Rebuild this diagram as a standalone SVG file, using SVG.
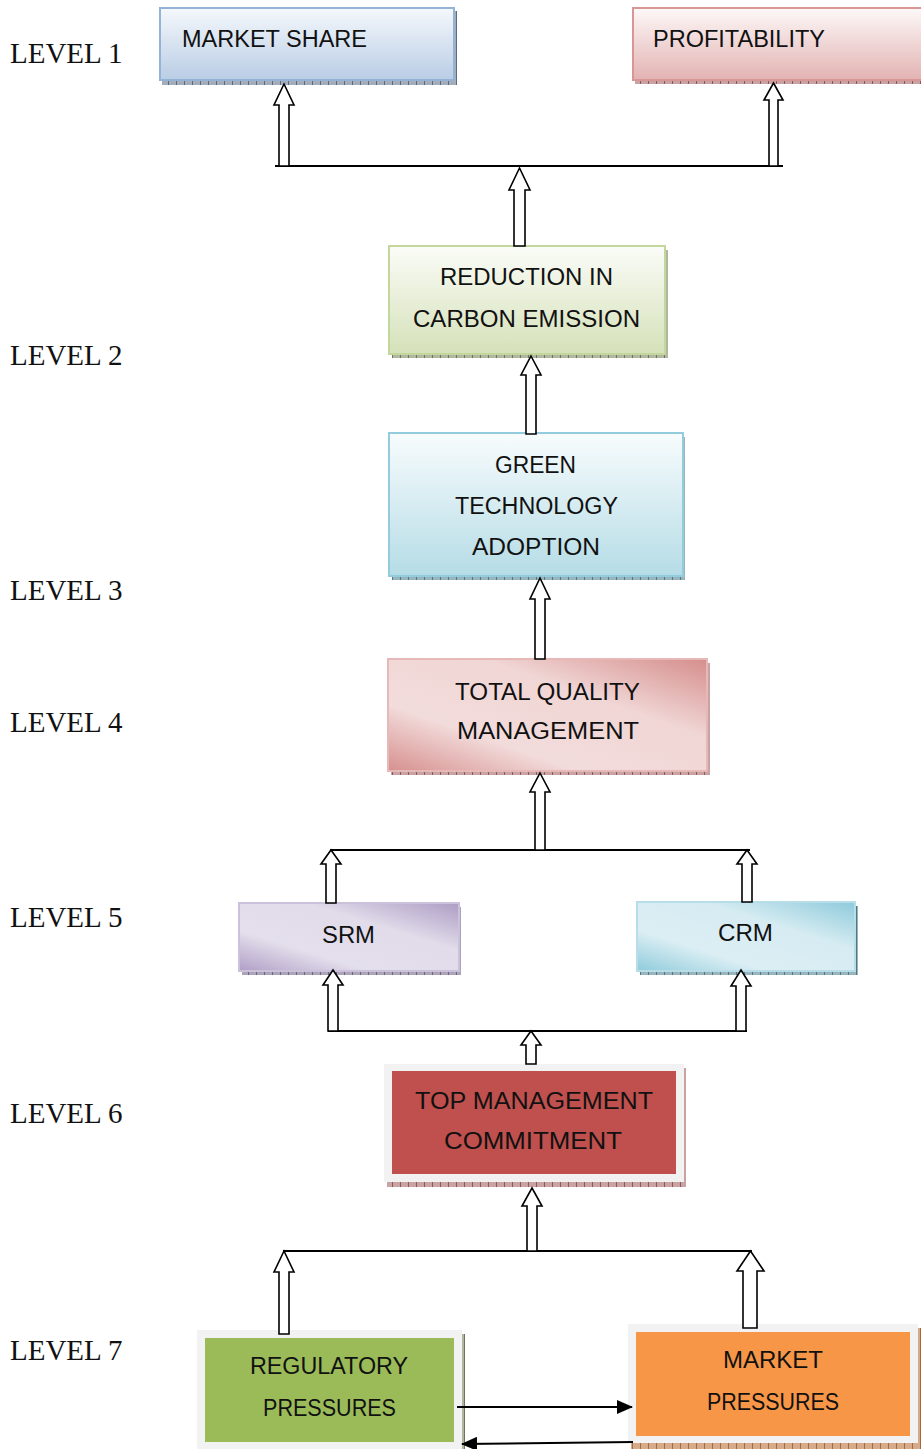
<svg xmlns="http://www.w3.org/2000/svg" width="921" height="1449" viewBox="0 0 921 1449">
<style>
.lvl{font-family:"Liberation Serif","Times New Roman",serif;font-size:29px;fill:#111}
.t{font-family:"Liberation Sans",Arial,sans-serif;font-size:23px;fill:#111;text-anchor:middle}
.blk{fill:#fff;stroke:#000;stroke-width:1.6;stroke-linejoin:miter}
.ln{stroke:#000;stroke-width:2;fill:none}
.thin{stroke:#000;stroke-width:2;fill:none}
</style>
<defs>
<linearGradient id="gMS" x1="0" y1="0" x2="0" y2="1"><stop offset="0" stop-color="#f5f8fc"/><stop offset="1" stop-color="#b9cde5"/></linearGradient>
<linearGradient id="gPR" x1="0" y1="0" x2="0" y2="1"><stop offset="0" stop-color="#fdf8f8"/><stop offset="1" stop-color="#e2b3b2"/></linearGradient>
<linearGradient id="gRE" x1="0" y1="0" x2="0" y2="1"><stop offset="0" stop-color="#fbfcf8"/><stop offset="1" stop-color="#d5e1b9"/></linearGradient>
<linearGradient id="gGT" x1="0" y1="0" x2="0" y2="1"><stop offset="0" stop-color="#f8fcfd"/><stop offset="1" stop-color="#b5dce6"/></linearGradient>
<linearGradient id="gTQ" x1="0" y1="1" x2="1" y2="0"><stop offset="0" stop-color="#d6908e"/><stop offset="0.3" stop-color="#f2dcdb"/><stop offset="0.65" stop-color="#f0d6d5"/><stop offset="1" stop-color="#d58e8c"/></linearGradient>
<linearGradient id="gSR" x1="0" y1="1" x2="1" y2="0"><stop offset="0" stop-color="#b09fc6"/><stop offset="0.3" stop-color="#e4dfec"/><stop offset="0.65" stop-color="#e1dbea"/><stop offset="1" stop-color="#ad9dc4"/></linearGradient>
<linearGradient id="gCR" x1="0" y1="1" x2="1" y2="0"><stop offset="0" stop-color="#8fcbdb"/><stop offset="0.3" stop-color="#dbeef4"/><stop offset="0.65" stop-color="#d6ecf2"/><stop offset="1" stop-color="#8ecadb"/></linearGradient>
<pattern id="hB" width="8" height="6" patternUnits="userSpaceOnUse"><rect width="8" height="6" fill="#a3adbb"/><line x1="0.5" y1="0" x2="0.5" y2="6" stroke="#5f6b7d" stroke-width="1"/></pattern>
<pattern id="hR" width="8" height="6" patternUnits="userSpaceOnUse"><rect width="8" height="6" fill="#c9a3a3"/><line x1="0.5" y1="0" x2="0.5" y2="6" stroke="#8c5858" stroke-width="1"/></pattern>
<pattern id="hG" width="8" height="6" patternUnits="userSpaceOnUse"><rect width="8" height="6" fill="#b0b7a0"/><line x1="0.5" y1="0" x2="0.5" y2="6" stroke="#6e7556" stroke-width="1"/></pattern>
<pattern id="hC" width="8" height="6" patternUnits="userSpaceOnUse"><rect width="8" height="6" fill="#98b4bd"/><line x1="0.5" y1="0" x2="0.5" y2="6" stroke="#557582" stroke-width="1"/></pattern>
<pattern id="hP" width="8" height="6" patternUnits="userSpaceOnUse"><rect width="8" height="6" fill="#aca4b8"/><line x1="0.5" y1="0" x2="0.5" y2="6" stroke="#6d6382" stroke-width="1"/></pattern>
<pattern id="hO" width="8" height="6" patternUnits="userSpaceOnUse"><rect width="8" height="6" fill="#d6ab8c"/><line x1="0.5" y1="0" x2="0.5" y2="6" stroke="#a5693e" stroke-width="1"/></pattern>
<marker id="ah" markerWidth="16" markerHeight="14" refX="15" refY="7" orient="auto" markerUnits="userSpaceOnUse"><path d="M0,0 L16,7 L0,14 Z" fill="#000"/></marker>
</defs>

<g id="levels">
<text class="lvl" x="10" y="63">LEVEL 1</text>
<text class="lvl" x="10" y="365">LEVEL 2</text>
<text class="lvl" x="10" y="600">LEVEL 3</text>
<text class="lvl" x="10" y="732">LEVEL 4</text>
<text class="lvl" x="10" y="927">LEVEL 5</text>
<text class="lvl" x="10" y="1123">LEVEL 6</text>
<text class="lvl" x="10" y="1360">LEVEL 7</text>
</g>

<g id="market-share">
<rect x="162" y="11" width="295" height="74" fill="url(#hB)"/>
<rect x="160" y="8" width="294" height="72" fill="url(#gMS)" stroke="#95b3d7" stroke-width="2"/>
<text class="t" x="274.5" y="47" textLength="185" lengthAdjust="spacingAndGlyphs">MARKET SHARE</text>
</g>

<g id="profitability">
<rect x="635" y="11" width="290" height="73" fill="url(#hR)"/>
<rect x="633" y="8" width="292" height="72" fill="url(#gPR)" stroke="#d99694" stroke-width="2"/>
<text class="t" x="739" y="47" textLength="172" lengthAdjust="spacingAndGlyphs">PROFITABILITY</text>
</g>

<g id="reduction">
<rect x="392" y="250" width="276" height="108" fill="url(#hG)"/>
<rect x="389" y="246" width="276" height="108" fill="url(#gRE)" stroke="#c3d69b" stroke-width="2"/>
<text class="t" x="526.5" y="285" textLength="173" lengthAdjust="spacingAndGlyphs">REDUCTION IN</text>
<text class="t" x="526.5" y="327" textLength="227" lengthAdjust="spacingAndGlyphs">CARBON EMISSION</text>
</g>

<g id="green-tech">
<rect x="392" y="437" width="293" height="143" fill="url(#hC)"/>
<rect x="389" y="433" width="294" height="143" fill="url(#gGT)" stroke="#93cddd" stroke-width="2"/>
<text class="t" x="535.5" y="473" textLength="81" lengthAdjust="spacingAndGlyphs">GREEN</text>
<text class="t" x="536.5" y="514" textLength="163" lengthAdjust="spacingAndGlyphs">TECHNOLOGY</text>
<text class="t" x="536" y="555" textLength="128" lengthAdjust="spacingAndGlyphs">ADOPTION</text>
</g>

<g id="tqm">
<rect x="391" y="663" width="319" height="112" fill="url(#hR)"/>
<rect x="388" y="659" width="319" height="112" fill="url(#gTQ)" stroke="#e6b9b8" stroke-width="2"/>
<text class="t" x="547.5" y="700" textLength="185" lengthAdjust="spacingAndGlyphs">TOTAL QUALITY</text>
<text class="t" x="548" y="739" textLength="182" lengthAdjust="spacingAndGlyphs">MANAGEMENT</text>
</g>

<g id="srm">
<rect x="242" y="907" width="219" height="68" fill="url(#hP)"/>
<rect x="239" y="903" width="220" height="68" fill="url(#gSR)" stroke="#ccc1da" stroke-width="2"/>
<text class="t" x="348.5" y="943" textLength="53" lengthAdjust="spacingAndGlyphs">SRM</text>
</g>

<g id="crm">
<rect x="640" y="906" width="218" height="69" fill="url(#hC)"/>
<rect x="637" y="902" width="218" height="69" fill="url(#gCR)" stroke="#b7dde8" stroke-width="2"/>
<text class="t" x="745.5" y="941" textLength="55" lengthAdjust="spacingAndGlyphs">CRM</text>
</g>

<g id="top-mgmt">
<rect x="387" y="1068" width="299" height="119" fill="url(#hR)"/>
<rect x="384" y="1064" width="300" height="118" fill="#f2f2f2"/>
<rect x="392" y="1071" width="284" height="103" fill="#c0504d"/>
<text class="t" x="534" y="1109" textLength="238" lengthAdjust="spacingAndGlyphs">TOP MANAGEMENT</text>
<text class="t" x="533" y="1149" textLength="178" lengthAdjust="spacingAndGlyphs">COMMITMENT</text>
</g>

<g id="regulatory">
<rect x="200" y="1334" width="265" height="120" fill="url(#hG)"/>
<rect x="197" y="1330" width="265" height="119" fill="#f2f2f2"/>
<rect x="205" y="1338" width="249" height="104" fill="#9bbb59"/>
<text class="t" x="329" y="1374" textLength="158" lengthAdjust="spacingAndGlyphs">REGULATORY</text>
<text class="t" x="329.5" y="1416" textLength="133" lengthAdjust="spacingAndGlyphs">PRESSURES</text>
</g>

<g id="market-pressures">
<rect x="631" y="1328" width="295" height="121" fill="url(#hO)"/>
<rect x="628" y="1324" width="290" height="119" fill="#f2f2f2"/>
<rect x="636" y="1332" width="274" height="104" fill="#f79646"/>
<text class="t" x="773" y="1368" textLength="100" lengthAdjust="spacingAndGlyphs">MARKET</text>
<text class="t" x="773" y="1410" textLength="132" lengthAdjust="spacingAndGlyphs">PRESSURES</text>
</g>

<g id="connectors">
<line class="ln" x1="275" y1="166" x2="783" y2="166"/>
<line class="ln" x1="330" y1="850" x2="750" y2="850"/>
<line class="ln" x1="328" y1="1031" x2="747" y2="1031"/>
<line class="ln" x1="283" y1="1251" x2="752" y2="1251"/>

<polygon class="blk" points="284,84 294,105 289,105 289,166 279,166 279,105 274,105"/>
<polygon class="blk" points="773.5,83 783,100 778,100 778,166 769,166 769,100 764,100"/>
<polygon class="blk" points="519.5,168 530,190 525,190 525,246 514,246 514,190 509,190"/>
<polygon class="blk" points="531,356 541,375 536,375 536,434 526,434 526,375 521,375"/>
<polygon class="blk" points="540,578 550,599 545,599 545,659 535,659 535,599 530,599"/>
<polygon class="blk" points="540,773 550,792 545,792 545,850 535,850 535,792 530,792"/>
<polygon class="blk" points="331,850 341,864 336,864 336,903 326,903 326,864 321,864"/>
<polygon class="blk" points="747,850 757,864 752,864 752,902 742,902 742,864 737,864"/>
<polygon class="blk" points="333,970 343,985 338,985 338,1031 328,1031 328,985 323,985"/>
<polygon class="blk" points="741,970 751,986 746,986 746,1031 736,1031 736,986 731,986"/>
<polygon class="blk" points="531,1031 541,1045 536,1045 536,1064 526,1064 526,1045 521,1045"/>
<polygon class="blk" points="532,1188 542,1206 537,1206 537,1251 527,1251 527,1206 522,1206"/>
<polygon class="blk" points="284,1251 294,1272 289,1272 289,1334 279,1334 279,1272 274,1272"/>
<polygon class="blk" points="750.5,1251 764,1271 757,1271 757,1328 743,1328 743,1271 737,1271"/>

<line class="thin" x1="457" y1="1407" x2="632" y2="1407" marker-end="url(#ah)"/>
<line class="thin" x1="633" y1="1442" x2="462" y2="1444" marker-end="url(#ah)"/>
</g>
</svg>
